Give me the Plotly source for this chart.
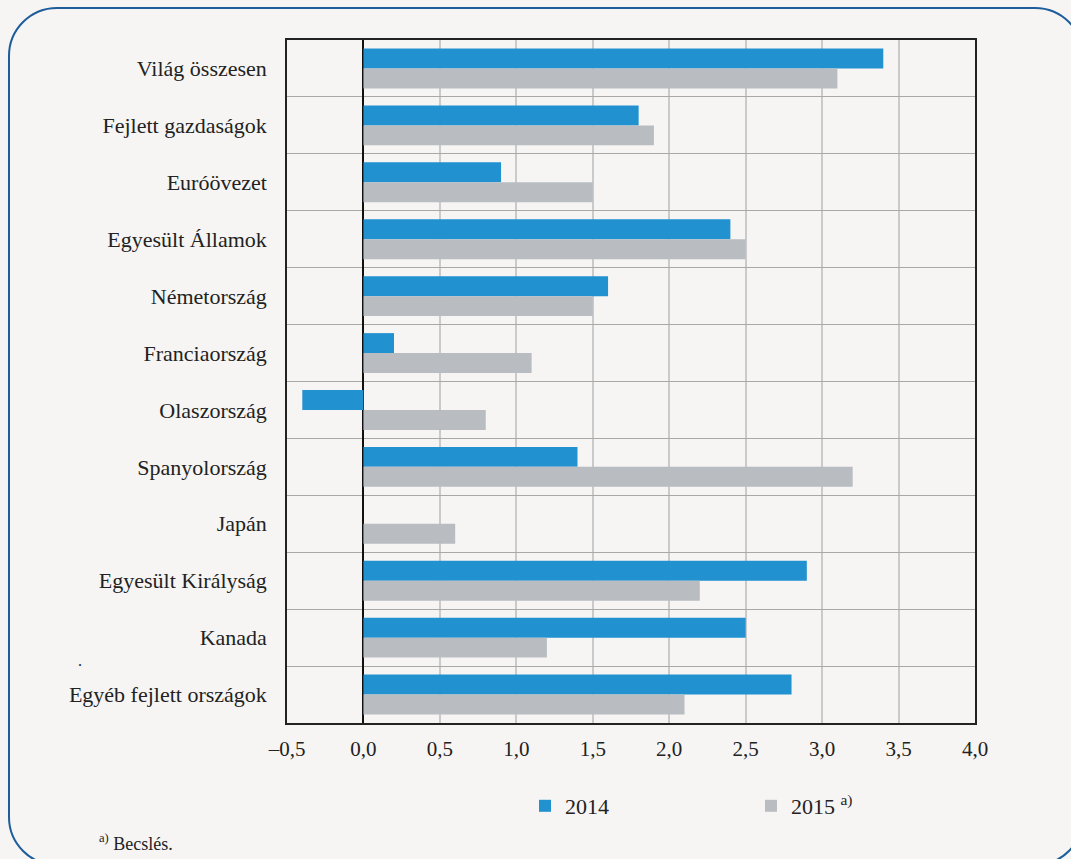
import plotly.graph_objects as go

categories = ["Világ összesen", "Fejlett gazdaságok", "Euróövezet", "Egyesült Államok",
              "Németország", "Franciaország", "Olaszország", "Spanyolország", "Japán",
              "Egyesült Királyság", "Kanada", "Egyéb fejlett országok"]
values_2014 = [3.4, 1.8, 0.9, 2.4, 1.6, 0.2, -0.4, 1.4, 0.0, 2.9, 2.5, 2.8]
values_2015 = [3.1, 1.9, 1.5, 2.5, 1.5, 1.1, 0.8, 3.2, 0.6, 2.2, 1.2, 2.1]
x_tickvals = [-0.5, 0.0, 0.5, 1.0, 1.5, 2.0, 2.5, 3.0, 3.5, 4.0]
x_ticktext = ["–0,5", "0,0", "0,5", "1,0", "1,5", "2,0", "2,5", "3,0", "3,5", "4,0"]

BG = "#f6f5f3"
FONT = "Liberation Serif, DejaVu Serif, serif"

W, H = 1071, 859
ML, MT = 287, 40
PW, PH = 688, 683
MR = W - ML - PW
MB = H - MT - PH

def px(x):
    return (x - ML) / PW

def py(y):
    return (MT + PH - y) / PH

fig = go.Figure()
fig.add_trace(go.Bar(y=categories, x=values_2014, orientation="h", name="2014",
                     marker=dict(color="#2191d0", line=dict(width=0))))
fig.add_trace(go.Bar(y=categories, x=values_2015, orientation="h", name="2015 <sup>a)</sup>",
                     marker=dict(color="#b9bdc2", line=dict(width=0))))

# rounded border
L, T, R, B, r = 9, 8, 1083, 865, 48
k = 0.5523 * r
def P(x, y):
    return f"{px(x):.5f},{py(y):.5f}"
path = (f"M {P(L + r, T)} L {P(R - r, T)} "
        f"C {P(R - r + k, T)} {P(R, T + r - k)} {P(R, T + r)} "
        f"L {P(R, B - r)} "
        f"C {P(R, B - r + k)} {P(R - r + k, B)} {P(R - r, B)} "
        f"L {P(L + r, B)} "
        f"C {P(L + r - k, B)} {P(L, B - r + k)} {P(L, B - r)} "
        f"L {P(L, T + r)} "
        f"C {P(L, T + r - k)} {P(L + r - k, T)} {P(L + r, T)} Z")
fig.add_shape(type="path", xref="paper", yref="paper", path=path,
              line=dict(color="#1d5d9b", width=2), layer="below")

fig.add_annotation(x=px(97), y=py(842), xref="paper", yref="paper", xanchor="left",
                   yanchor="middle", showarrow=False, text="<sup>a)</sup> Becslés.",
                   font=dict(family=FONT, size=18, color="#222"))
fig.add_annotation(x=px(80), y=py(660), xref="paper", yref="paper", xanchor="center",
                   yanchor="middle", showarrow=False, text=".",
                   font=dict(family=FONT, size=16, color="#222"))

fig.update_layout(
    width=W, height=H,
    margin=dict(l=ML, r=MR, t=MT, b=MB, autoexpand=False),
    paper_bgcolor=BG, plot_bgcolor=BG,
    barmode="group", bargap=0.3, bargroupgap=0,
    font=dict(family=FONT, size=22, color="#222"),
    showlegend=True,
    legend=dict(orientation="h", x=px(525), y=py(785), xanchor="left", yanchor="top",
                entrywidth=181, entrywidthmode="pixels",
                font=dict(family=FONT, size=22, color="#222"), bgcolor="rgba(0,0,0,0)",
                traceorder="normal"),
    xaxis=dict(range=[-0.5, 4.0], tickvals=x_tickvals, ticktext=x_ticktext,
               showgrid=True, gridcolor="#c9cacc", gridwidth=1.5,
               zeroline=True, zerolinecolor="#111", zerolinewidth=1.5,
               showline=True, linecolor="#222", linewidth=1.5, mirror=True,
               ticks="", ticklabelstandoff=6,
               tickfont=dict(family=FONT, size=21, color="#222")),
    yaxis=dict(type="category", categoryorder="array", categoryarray=categories,
               autorange="reversed", tickson="boundaries",
               showgrid=True, gridcolor="#a8a8a8", gridwidth=1,
               showline=True, linecolor="#222", linewidth=1.5, mirror=True,
               ticks="", ticklabelstandoff=14,
               tickfont=dict(family=FONT, size=22, color="#222")),
)

fig.write_html(
    "out.html",
    config={"displayModeBar": False},
    post_script="document.body.style.margin='0px';document.body.style.background='" + BG + "';"
                "document.body.style.overflow='hidden';",
)
